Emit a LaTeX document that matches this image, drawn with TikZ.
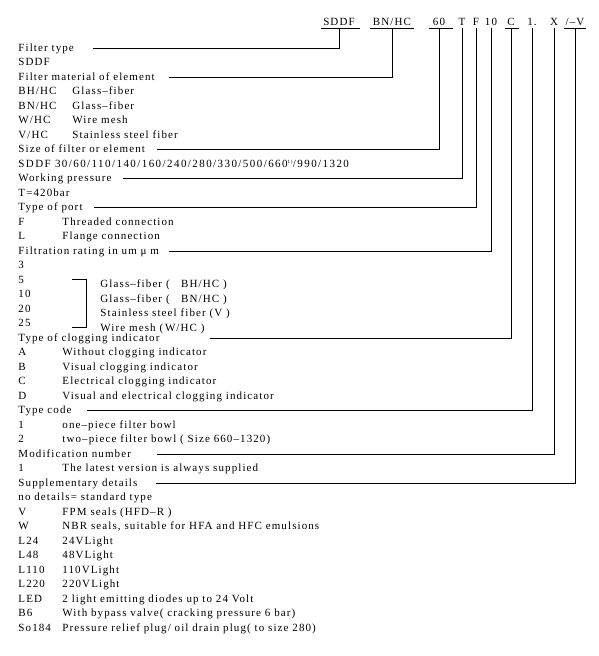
\documentclass[tikz,border=0pt]{standalone}
\usepackage{fontspec}
\setmainfont[LetterSpace=10]{Liberation Serif}

\begin{document}
\begin{tikzpicture}[x=1pt, y=-1pt, line width=0.9pt,
    txt/.style={anchor=base west, inner sep=0pt, font=\fontsize{11}{13}\selectfont},
    head/.style={txt, text height=6pt, text depth=0pt},
    code/.style={anchor=base, inner sep=0pt, text depth=3pt, font=\fontsize{11}{13}\selectfont},
  ]
  \useasboundingbox (0,0) rectangle (598,656);

  % Bestellschluessel oben
  \node[code] (cSDDF) at (339, 25) {SDDF};
  \node[code] (cMat)  at (392, 25) {BN/HC};
  \node[code] (cSize) at (439, 25) {60};
  \node[code] (cT)    at (462, 25) {T};
  \node[code] (cF)    at (476, 25) {F};
  \node[code] (cRate) at (491, 25) {10};
  \node[code] (cC)    at (511, 25) {C};
  \node[code] (cOne)  at (532, 25) {1.};
  \node[code] (cX)    at (554, 25) {X};
  \node[code] (cV)    at (575, 25) {/–V};

  % Unterstriche
  \draw ([xshift=-2]cSDDF.south west) -- ([xshift=5]cSDDF.south east);
  \draw ([xshift=-3]cMat.south west) -- ([xshift=3]cMat.south east);
  \draw ([xshift=-4]cSize.south west) -- ([xshift=7]cSize.south east);
  \draw ([xshift=-2]cC.south west) -- ([xshift=4]cC.south east);
  \draw ([xshift=-1]cV.south west) -- ([xshift=1]cV.south east);

  % Ueberschriften
  \node[head] (hType)  at (18, 51)    {Filter type};
  \node[head] (hMat)   at (18, 80)    {Filter material of element};
  \node[head] (hSize)  at (18, 152.5) {Size of filter or element};
  \node[head] (hPress) at (18, 181.5) {Working pressure};
  \node[head] (hPort)  at (18, 210.5) {Type of port};
  \node[head] (hRate)  at (18, 254)   {Filtration rating in um μ m};
  \node[head] (hClog)  at (18, 341)   {Type of clogging indicator};
  \node[head] (hTcode) at (18, 413.5) {Type code};
  \node[head] (hMod)   at (18, 457)   {Modification number};
  \node[head] (hSupp)  at (18, 486)   {Supplementary details};

  % Eintraege
  \node[txt] (tSDDF) at (18, 65.5)  {SDDF};
  \node[txt] (tBH)   at (18, 94.5)  {\makebox[54pt][l]{BH/HC}Glass–fiber};
  \node[txt] (tBN)   at (18, 109)   {\makebox[54pt][l]{BN/HC}Glass–fiber};
  \node[txt] (tW)    at (18, 123.5) {\makebox[54pt][l]{W/HC}Wire mesh};
  \node[txt] (tVHC)  at (18, 138)   {\makebox[54pt][l]{V/HC}Stainless steel fiber};
  \node[txt] (tSizes) at (18, 167)  {\addfontfeatures{LetterSpace=13}SDDF 30/60/110/140/160/240/280/330/500/660\textsuperscript{\fontsize{5}{5}\selectfont 1)}/990/1320};
  \node[txt] (tBar)  at (18, 196)   {T=420bar};
  \node[txt] (tF)    at (18, 225)   {\makebox[44pt][l]{F}Threaded connection};
  \node[txt] (tL)    at (18, 239.5) {\makebox[44pt][l]{L}Flange connection};
  \node[txt] (t3)    at (18, 268.5) {3};
  \node[txt] (t5)    at (18, 283)   {5};
  \node[txt] (t10)   at (18, 297.5) {10};
  \node[txt] (t20)   at (18, 312)   {20};
  \node[txt] (t25)   at (18, 326.5) {25};
  \node[txt] (gBH)   at (100, 287.5) {Glass–fiber (\ \ \ BH/HC\ )};
  \node[txt] (gBN)   at (100, 302)   {Glass–fiber (\ \ \ BN/HC\ )};
  \node[txt] (gV)    at (100, 316.5) {Stainless steel fiber (V )};
  \node[txt] (gW)    at (100, 331)   {Wire mesh (\,W/HC )};
  \node[txt] (tA)    at (18, 355.5) {\makebox[44pt][l]{A}Without clogging indicator};
  \node[txt] (tB)    at (18, 370)   {\makebox[44pt][l]{B}Visual clogging indicator};
  \node[txt] (tC)    at (18, 384.5) {\makebox[44pt][l]{C}Electrical clogging indicator};
  \node[txt] (tD)    at (18, 399)   {\makebox[44pt][l]{D}Visual and electrical clogging indicator};
  \node[txt] (tOne)  at (18, 428)   {\makebox[44pt][l]{1}one–piece filter bowl};
  \node[txt] (tTwo)  at (18, 442.5) {\makebox[44pt][l]{2}two–piece filter bowl ( Size 660–1320)};
  \node[txt] (tLast) at (18, 471.5) {\makebox[44pt][l]{1}The latest version is always supplied};
  \node[txt] (tStd)  at (18, 500.5) {no details= standard type};
  \node[txt] (tFPM)  at (18, 515)   {\makebox[44pt][l]{V}FPM seals (HFD–R )};
  \node[txt] (tNBR)  at (18, 529.5) {\makebox[44pt][l]{W}NBR seals, suitable for HFA and HFC emulsions};
  \node[txt] (tL24)  at (18, 544)   {\makebox[44pt][l]{L24}24VLight};
  \node[txt] (tL48)  at (18, 558.5) {\makebox[44pt][l]{L48}48VLight};
  \node[txt] (tL110) at (18, 573)   {\makebox[44pt][l]{L110}110VLight};
  \node[txt] (tL220) at (18, 587.5) {\makebox[44pt][l]{L220}220VLight};
  \node[txt] (tLED)  at (18, 602)   {\makebox[44pt][l]{LED}2 light emitting diodes up to 24 Volt};
  \node[txt] (tB6)   at (18, 616.5) {\makebox[44pt][l]{B6}With bypass valve( cracking pressure 6 bar)};
  \node[txt] (tSo)   at (18, 631)   {\makebox[44pt][l]{So184}Pressure relief plug/ oil drain plug( to size 280)};

  % Klammer
  \draw (72, 279) -- (86, 279) -- (86, 327) -- (72, 327);

  % Verbindungslinien
  \draw (cSDDF.south) |- ([xshift=19]hType.east);
  \draw (cMat.south)  |- ([xshift=14]hMat.east);
  \draw (cSize.south) |- ([xshift=12]hSize.east);
  \draw (cT.south)    |- ([xshift=11]hPress.east);
  \draw (cF.south)    |- ([xshift=11]hPort.east);
  \draw (cRate.south) |- ([xshift=10]hRate.east);
  \draw (cC.south)    |- ([xshift=50]hClog.east);
  \draw (cOne.south)  |- ([xshift=15]hTcode.east);
  \draw (cX.south)    |- ([xshift=26]hMod.east);
  \draw (cV.south)    |- ([xshift=18]hSupp.east);

\end{tikzpicture}
\end{document}
